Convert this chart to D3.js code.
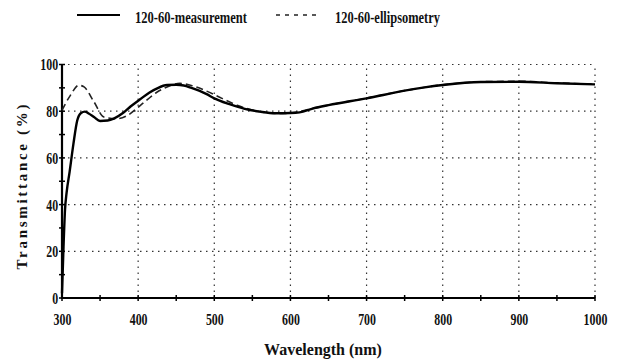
<!DOCTYPE html>
<html>
<head>
<meta charset="utf-8">
<script src="https://cdn.jsdelivr.net/npm/d3@7"></script>
<style>
  body { margin: 0; background: #fff; }
  text { font-family: "Liberation Serif", "Times New Roman", serif; font-weight: bold; fill: #111; }
</style>
</head>
<body>
<script>

// data

var measWave = [300, 302, 304, 306, 310, 315, 320, 325, 330, 335, 342, 350, 360, 368, 380, 390, 403, 415, 425, 438, 450, 460, 470, 480, 490, 500, 520, 540, 560, 580, 600, 612, 630, 650, 700, 750, 800, 850, 900, 950, 1000]
var measValue = [2, 22, 38, 45, 54, 66, 76, 79.2, 79.8, 79, 77.5, 75.8, 76, 76.8, 79.2, 82, 85.2, 88, 89.8, 91.2, 91.3, 91, 90, 88.8, 87.3, 85.5, 83, 81, 79.8, 79.1, 79.2, 79.5, 81.2, 82.6, 85.5, 88.8, 91.2, 92.5, 92.6, 92, 91.5]

var ellWave = [300, 311, 322, 329, 342, 355, 372, 386, 403, 425, 438, 455, 470, 490, 510, 530, 550, 570, 590, 610, 630, 650, 700, 750, 800, 850, 900, 950, 1000]
var ellValue = [80.4, 86.8, 91.1, 90.4, 84, 77.5, 76.8, 78.2, 82.5, 88.2, 90.4, 91.9, 91, 88.6, 85.5, 82.5, 80.5, 79.3, 79, 79.8, 81.2, 82.6, 85.6, 88.8, 91.3, 92.6, 92.8, 92.1, 91.6]

var xTicks = [300, 400, 500, 600, 700, 800, 900, 1000]
var xMinorTicks = [300, 350, 400, 450, 500, 550, 600, 650, 700, 750, 800, 850, 900, 950, 1000]
var yTicks = [0, 20, 40, 60, 80, 100]
var yMinorTicks = [0, 10, 20, 30, 40, 50, 60, 70, 80, 90, 100]

var seriesNames = ["120-60-measurement", "120-60-ellipsometry"]

var width = 617, height = 364

var svg = d3.select("body").append("svg")
  .attr("width", width)
  .attr("height", height)

var x = d3.scaleLinear()
  .domain([300, 1000])
  .range([62, 595])

var y = d3.scaleLinear()
  .domain([0, 100])
  .range([298, 64.5])

// dotted grid

svg.append("g")
  .selectAll("line")
  .data(yTicks.slice(1))
  .enter().append("line")
  .attr("x1", x(300)).attr("x2", x(1000))
  .attr("y1", function(d) { return y(d) })
  .attr("y2", function(d) { return y(d) })
  .attr("stroke", "#333")
  .attr("stroke-width", 1.2)
  .attr("stroke-dasharray", "1.5,4.5")

svg.append("g")
  .selectAll("line")
  .data(xTicks.slice(1))
  .enter().append("line")
  .attr("x1", function(d) { return x(d) })
  .attr("x2", function(d) { return x(d) })
  .attr("y1", y(0)).attr("y2", y(100))
  .attr("stroke", "#333")
  .attr("stroke-width", 1.2)
  .attr("stroke-dasharray", "1.5,4.5")

// axes, labels squeezed like the scan

var xAxis = d3.axisBottom(x)
  .tickValues(xTicks)
  .tickSize(0)
  .tickFormat(d3.format("d"))

var gx = svg.append("g")
  .attr("transform", "translate(0," + y(0) + ")")
  .call(xAxis)
gx.select(".domain").remove()
gx.selectAll("text")
  .attr("y", 15)
  .attr("dy", "0.71em")
  .style("font-size", "17px")
  .attr("transform", "scale(0.7,1)")

var yAxis = d3.axisLeft(y)
  .tickValues(yTicks)
  .tickSize(0)

var gy = svg.append("g")
  .attr("transform", "translate(" + x(300) + ",0)")
  .call(yAxis)
gy.select(".domain").remove()
gy.selectAll("text")
  .attr("x", -5.5)
  .style("font-size", "17px")
  .attr("transform", "scale(0.7,1)")

svg.append("line")
  .attr("x1", x(300)).attr("x2", x(1000))
  .attr("y1", y(0)).attr("y2", y(0))
  .attr("stroke", "#000").attr("stroke-width", 2.2)

svg.append("line")
  .attr("x1", x(300)).attr("x2", x(300))
  .attr("y1", y(0) + 1).attr("y2", y(100))
  .attr("stroke", "#000").attr("stroke-width", 2.2)

svg.append("g")
  .selectAll("line")
  .data(xMinorTicks)
  .enter().append("line")
  .attr("x1", function(d) { return x(d) })
  .attr("x2", function(d) { return x(d) })
  .attr("y1", y(0) - 3).attr("y2", y(0) + 3)
  .attr("stroke", "#000").attr("stroke-width", 1.5)

svg.append("g")
  .selectAll("line")
  .data(yMinorTicks)
  .enter().append("line")
  .attr("x1", x(300) - 3).attr("x2", x(300) + 3)
  .attr("y1", function(d) { return y(d) })
  .attr("y2", function(d) { return y(d) })
  .attr("stroke", "#000").attr("stroke-width", 1.5)

// axis titles

svg.append("text")
  .attr("x", 323)
  .attr("y", 355)
  .attr("text-anchor", "middle")
  .style("font-size", "16px")
  .text("Wavelength (nm)")

svg.append("text")
  .attr("transform", "translate(27,187) rotate(-90)")
  .attr("text-anchor", "middle")
  .attr("textLength", 165)
  .attr("lengthAdjust", "spacing")
  .style("font-size", "15px")
  .text("Transmittance (%)")

// the two curves

var measPoints = measWave.map(function(d, i) { return [d, measValue[i]] })
var ellPoints = ellWave.map(function(d, i) { return [d, ellValue[i]] })

var line = d3.line()
  .x(function(d) { return x(d[0]) })
  .y(function(d) { return y(d[1]) })
  .curve(d3.curveMonotoneX)

svg.append("path")
  .datum(ellPoints)
  .attr("d", line)
  .attr("fill", "none")
  .attr("stroke", "#222")
  .attr("stroke-width", 1.6)
  .attr("stroke-dasharray", "7,4")

svg.append("path")
  .datum(measPoints)
  .attr("d", line)
  .attr("fill", "none")
  .attr("stroke", "#000")
  .attr("stroke-width", 2.4)

// legend on top

var legend = svg.append("g")

legend.append("line")
  .attr("x1", 77).attr("x2", 120)
  .attr("y1", 15).attr("y2", 15)
  .attr("stroke", "#000").attr("stroke-width", 2.2)

legend.append("text")
  .attr("x", 135).attr("y", 23)
  .attr("textLength", 112)
  .attr("lengthAdjust", "spacingAndGlyphs")
  .style("font-size", "17px")
  .text(seriesNames[0])

legend.append("line")
  .attr("x1", 276).attr("x2", 318)
  .attr("y1", 15).attr("y2", 15)
  .attr("stroke", "#222").attr("stroke-width", 1.5)
  .attr("stroke-dasharray", "4,5")

legend.append("text")
  .attr("x", 335).attr("y", 23)
  .attr("textLength", 105)
  .attr("lengthAdjust", "spacingAndGlyphs")
  .style("font-size", "17px")
  .text(seriesNames[1])

</script>
</body>
</html>
